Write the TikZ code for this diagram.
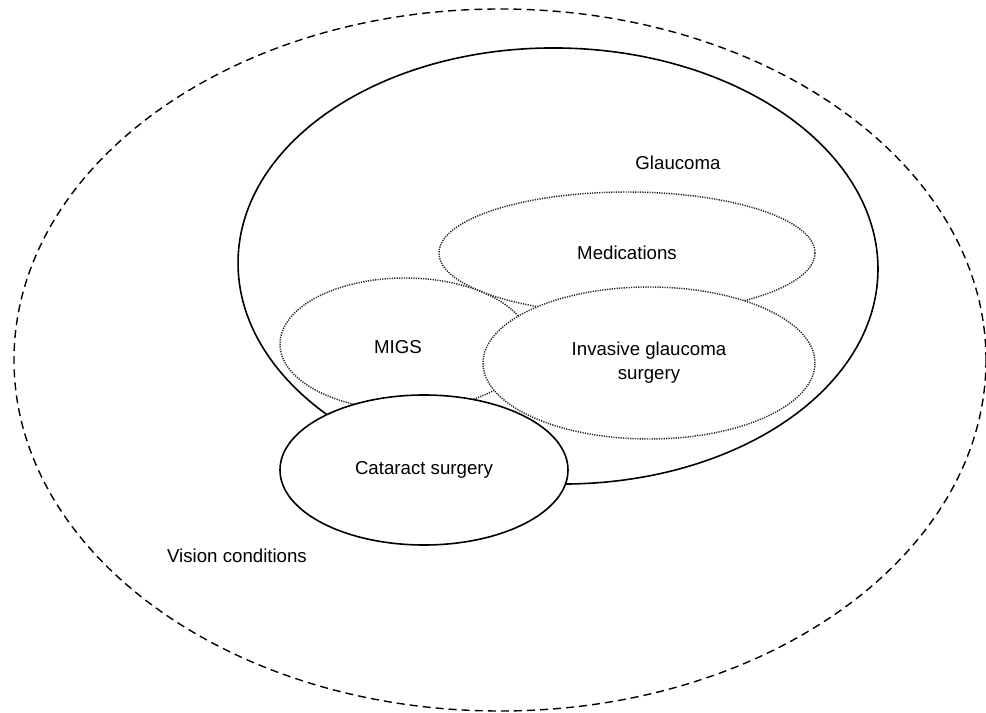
\documentclass[tikz,border=0pt]{standalone}
\usepackage{fontspec}
\setmainfont{Liberation Sans}
\usetikzlibrary{shapes.geometric}
\begin{document}
\begin{tikzpicture}[x=0.75pt,y=-0.75pt,
    every node/.style={font=\fontsize{14}{18}\selectfont,align=center},
    outerset/.style={ellipse,draw,line width=1.05pt,dash pattern=on 6pt off 3.8pt},
    mainset/.style={ellipse,draw,fill=white,line width=1.2pt},
    subset/.style={ellipse,draw=black!85,fill=white,line width=1.1pt,dash pattern=on 0.9pt off 0.9pt}]
          \useasboundingbox (0,0) rectangle (986,713);
          \node[outerset,minimum width=729pt,minimum height=526.5pt] (vision) at (500,360) {};
          \node[mainset,minimum width=480pt,minimum height=327pt,rotate=-1] (glaucoma) at (558,266) {};
          \node[subset,minimum width=282pt,minimum height=91.5pt] (meds) at (627,253) {Medications};
          \node[subset,minimum width=187.5pt,minimum height=99pt] (migs) at (405,344) {};
          \node[subset,minimum width=249pt,minimum height=114pt] (invasive) at (649,363) {Invasive glaucoma\\surgery};
          \node[mainset,minimum width=216pt,minimum height=112.5pt] (cataract) at (424,470) {Cataract surgery};
          
          \node (glaucomalabel) at (678,163) {Glaucoma};
          \node (migslabel) at (398,347) {MIGS};
          \node (visionlabel) at (237,556) {Vision conditions};
        \end{tikzpicture}
\end{document}
